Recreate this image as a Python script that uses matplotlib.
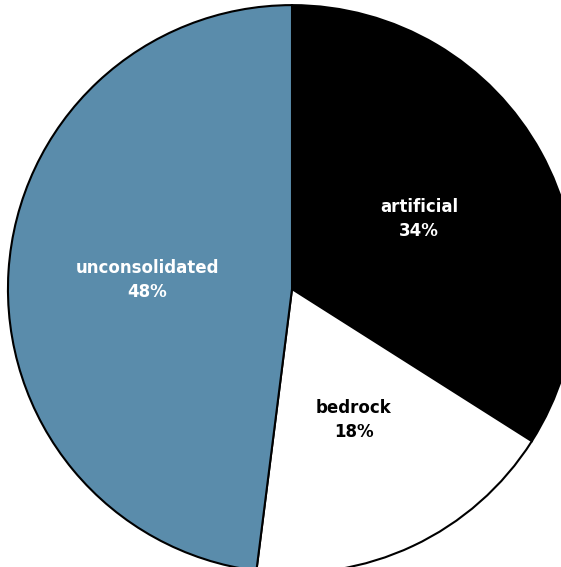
import matplotlib
matplotlib.use("Agg")
import matplotlib.pyplot as plt

# data
categories = ["artificial", "bedrock", "unconsolidated"]
shares = [34, 18, 48]
colors = ["#000000", "#ffffff", "#5a8cab"]
text_colors = ["white", "black", "white"]

labels = [f"{c}\n{s}%" for c, s in zip(categories, shares)]

fig = plt.figure(figsize=(5.61, 5.67), dpi=100)
ax = fig.add_axes([0, 0, 1, 1])

wedges, texts = ax.pie(shares, labels=labels, colors=colors, startangle=90,
                       counterclock=False, labeldistance=0.51,
                       wedgeprops={"edgecolor": "black", "linewidth": 1.5},
                       textprops={"fontsize": 12, "fontweight": "bold",
                                  "ha": "center", "va": "center"})
for t, c in zip(texts, text_colors):
    t.set_color(c)
    t.set_linespacing(1.45)

# pie is a bit off-centre and cut off at the right and bottom
ax.set_aspect("auto")
ax.set_xlim(-1.028, 0.947)
ax.set_ylim(-0.979, 1.018)
ax.axis("off")

plt.savefig("out.png", dpi=100)
